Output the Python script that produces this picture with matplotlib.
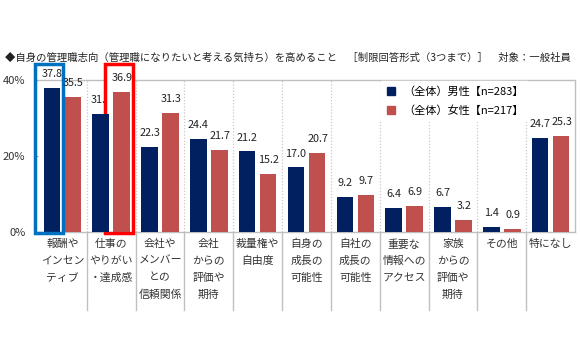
import matplotlib
matplotlib.use("Agg")
import matplotlib.pyplot as plt
import matplotlib.transforms as mtransforms
from matplotlib.patches import Rectangle
from matplotlib.lines import Line2D
import numpy as np

plt.rcParams['font.family'] = ['Noto Sans CJK JP', 'DejaVu Sans']

categories = ["報酬や\nインセン\nティブ", "仕事の\nやりがい\n・達成感", "会社や\nメンバー\nとの\n信頼関係",
              "会社\nからの\n評価や\n期待", "裁量権や\n自由度", "自身の\n成長の\n可能性",
              "自社の\n成長の\n可能性", "重要な\n情報への\nアクセス", "家族\nからの\n評価や\n期待",
              "その他", "特になし"]
male = [37.8, 31.0, 22.3, 24.4, 21.2, 17.0, 9.2, 6.4, 6.7, 1.4, 24.7]
female = [35.5, 36.9, 31.3, 21.7, 15.2, 20.7, 9.7, 6.9, 3.2, 0.9, 25.3]
series_names = ["（全体）男性【n=283】", "（全体）女性【n=217】"]
yticks = [0, 20, 40]
ytick_labels = ["0%", "20%", "40%"]
title = "◆自身の管理職志向（管理職になりたいと考える気持ち）を高めること　［制限回答形式（3つまで）］　対象：一般社員"

navy = "#002060"
red = "#C0504D"

fig = plt.figure(figsize=(5.8, 3.6), dpi=100)
ax = fig.add_axes([38/580, 1-232/360, (575-38)/580, (232-80)/360])

x = np.arange(len(categories))
w = 0.34
off = 0.215
ax.bar(x - off, male, w, color=navy, zorder=4)
ax.bar(x + off, female, w, color=red, zorder=4)

for i in range(len(categories)):
    ax.annotate(f"{male[i]:.1f}", (x[i]-off, male[i]), xytext=(0, 10), textcoords="offset points",
                ha="center", va="center", fontsize=7.8, color="#222222", zorder=2)
    ax.annotate(f"{female[i]:.1f}", (x[i]+off, female[i]), xytext=(0.5, 10), textcoords="offset points",
                ha="center", va="center", fontsize=7.8, color="#222222", zorder=6)

ax.set_xlim(-0.5, len(categories)-0.5)
ax.set_ylim(0, 40)
ax.set_yticks(yticks)
ax.set_yticklabels(ytick_labels, fontsize=8, color="#333333")
ax.tick_params(axis='y', length=3, pad=6, color="#999999")
ax.set_xticks(x)
ax.set_xticklabels(categories, fontsize=7.8, linespacing=1.85, va="top", color="#333333")
ax.tick_params(axis='x', length=0, pad=5)

for s in ['top', 'right', 'bottom']:
    ax.spines[s].set_color("#bfbfbf")
    ax.spines[s].set_linewidth(1)
ax.spines['left'].set_visible(False)

# category separators
trans = mtransforms.blended_transform_factory(ax.transData, ax.transAxes)
for b in np.arange(0.5, len(categories)-0.5, 1.0):
    ax.plot([b, b], [0, 1], transform=trans, color="#c8c8c8", lw=0.9, ls=(0, (1, 1.5)), zorder=1)
    ax.plot([b, b], [0, -0.515], transform=trans, color="#c0c0c0", lw=1, clip_on=False, zorder=1)

# highlight boxes
pad = 0.285
shift = 0.055
box_top = 44.2
box_bot = -0.3
ax.add_patch(Rectangle((x[0]-off-shift-pad, box_bot), 2*pad, box_top-box_bot, facecolor="none",
                       edgecolor="#0070C0", lw=2.5, clip_on=False, zorder=5))
ax.add_patch(Rectangle((x[1]+off-shift-pad, box_bot), 2*pad, box_top-box_bot, facecolor="white",
                       edgecolor="#FF0000", lw=2.5, clip_on=False, zorder=3))

handles = [Line2D([], [], marker='s', ls='none', color=navy, markersize=5.5),
           Line2D([], [], marker='s', ls='none', color=red, markersize=5.5)]
leg = ax.legend(handles, series_names, loc="upper left", bbox_to_anchor=(0.635, 1.0),
                frameon=True, facecolor="white", edgecolor="white", framealpha=1,
                fontsize=8, handlelength=1.0, handletextpad=0.6, labelspacing=0.75,
                borderpad=0.45, borderaxespad=0.1)
leg.set_zorder(7)

fig.text(5/580, 1-58/360, title, fontsize=7.45, va="center", ha="left", color="#222222")

fig.savefig("out.png", dpi=100)
